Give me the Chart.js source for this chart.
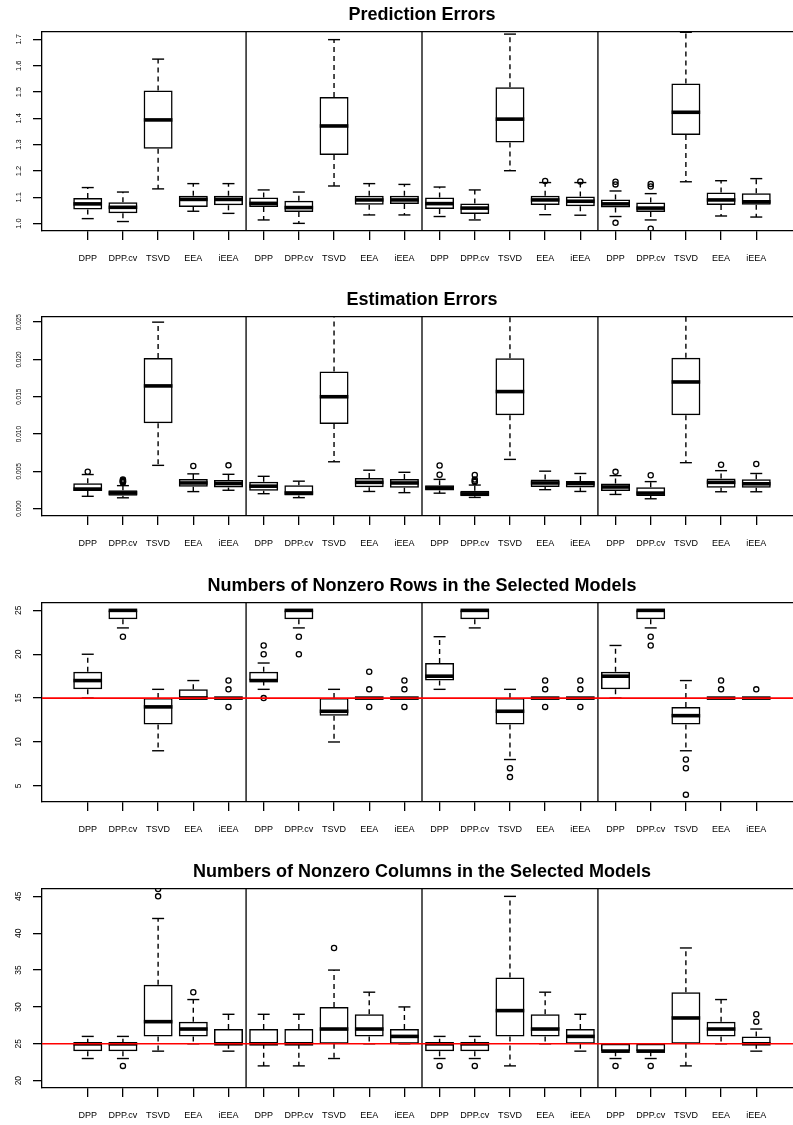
<!DOCTYPE html>
<html>
<head>
<meta charset="utf-8">
<script src="https://cdn.jsdelivr.net/npm/chart.js@4.4.1/dist/chart.umd.min.js"></script>
<style>
  html, body { margin: 0; padding: 0; background: #ffffff; overflow: hidden; width: 793px; height: 1125px; }
  .panel { position: absolute; left: 0; width: 793px; }
  canvas { display: block; }
</style>
</head>
<body>
<div class="panel" style="top:0px;height:286px"><canvas id="c1" width="793" height="286"></canvas></div>
<div class="panel" style="top:285px;height:286px"><canvas id="c2" width="793" height="286"></canvas></div>
<div class="panel" style="top:571px;height:286px"><canvas id="c3" width="793" height="286"></canvas></div>
<div class="panel" style="top:857px;height:268px"><canvas id="c4" width="793" height="268"></canvas></div>
<script>
// ---------------- categories ----------------
const methods = ['DPP', 'DPP.cv', 'TSVD', 'EEA', 'iEEA'];
const groupCount = 4;
const boxLabels = Array.from({ length: groupCount }, () => methods).flat();

// ---------------- Prediction Errors ----------------
const predTitle = 'Prediction Errors';
const predTicks = [1.0, 1.1, 1.2, 1.3, 1.4, 1.5, 1.6, 1.7];
const predTickLabels = ['1.0', '1.1', '1.2', '1.3', '1.4', '1.5', '1.6', '1.7'];
const predLow  = [1.019, 1.008, 1.132, 1.047, 1.039,  1.014, 1.001, 1.143, 1.033, 1.033,  1.027, 1.014, 1.201, 1.034, 1.032,  1.027, 1.014, 1.159, 1.029, 1.025];
const predQ1   = [1.054, 1.039, 1.284, 1.063, 1.070,  1.063, 1.044, 1.261, 1.072, 1.075,  1.056, 1.037, 1.308, 1.071, 1.066,  1.061, 1.044, 1.337, 1.071, 1.072];
const predMed  = [1.075, 1.062, 1.394, 1.092, 1.092,  1.077, 1.061, 1.371, 1.090, 1.090,  1.076, 1.059, 1.397, 1.090, 1.085,  1.075, 1.059, 1.423, 1.090, 1.083];
const predQ3   = [1.097, 1.081, 1.506, 1.106, 1.106,  1.099, 1.087, 1.481, 1.106, 1.106,  1.099, 1.076, 1.518, 1.106, 1.103,  1.092, 1.080, 1.532, 1.118, 1.115];
const predHigh = [1.137, 1.120, 1.625, 1.152, 1.152,  1.128, 1.120, 1.699, 1.152, 1.149,  1.139, 1.128, 1.720, 1.156, 1.156,  1.124, 1.114, 1.727, 1.163, 1.171];
const predOut  = [[], [], [], [], [],  [], [], [], [], [],  [], [], [], [1.162], [1.160],  [1.159, 1.149, 1.003], [1.151, 1.141, 0.981], [], [], []];

// ---------------- Estimation Errors ----------------
const estTitle = 'Estimation Errors';
const estTicks = [0.000, 0.005, 0.010, 0.015, 0.020, 0.025];
const estTickLabels = ['0.000', '0.005', '0.010', '0.015', '0.020', '0.025'];
const estLow  = [0.00165, 0.00145, 0.00580, 0.00228, 0.00246,  0.00200, 0.00147, 0.00628, 0.00230, 0.00214,  0.00207, 0.00150, 0.00660, 0.00254, 0.00230,  0.00190, 0.00132, 0.00616, 0.00226, 0.00226];
const estQ1   = [0.00237, 0.00172, 0.01145, 0.00292, 0.00283,  0.00239, 0.00175, 0.01136, 0.00288, 0.00281,  0.00244, 0.00165, 0.01252, 0.00290, 0.00283,  0.00236, 0.00170, 0.01252, 0.00281, 0.00281];
const estMed  = [0.00262, 0.00210, 0.01645, 0.00344, 0.00335,  0.00301, 0.00210, 0.01500, 0.00352, 0.00344,  0.00277, 0.00198, 0.01569, 0.00344, 0.00335,  0.00290, 0.00208, 0.01698, 0.00352, 0.00333];
const estQ3   = [0.00341, 0.00246, 0.02019, 0.00397, 0.00384,  0.00360, 0.00314, 0.01839, 0.00411, 0.00397,  0.00314, 0.00239, 0.02015, 0.00390, 0.00370,  0.00337, 0.00288, 0.02022, 0.00404, 0.00395];
const estHigh = [0.00457, 0.00308, 0.02500, 0.00466, 0.00460,  0.00433, 0.00368, 0.02800, 0.00515, 0.00487,  0.00392, 0.00316, 0.02800, 0.00502, 0.00471,  0.00442, 0.00362, 0.02800, 0.00509, 0.00471];
const estOut  = [[0.00495], [0.00350, 0.00356, 0.00362, 0.00370, 0.00380, 0.00390], [], [0.00571], [0.00580],
                 [], [], [], [], [],
                 [0.00578, 0.00455], [0.00451, 0.00390, 0.00370, 0.00357], [], [], [],
                 [0.00493], [0.00448], [], [0.00589], [0.00598]];

// ---------------- Numbers of Nonzero Rows ----------------
const rowTitle = 'Numbers of Nonzero Rows in the Selected Models';
const rowTicks = [5, 10, 15, 20, 25];
const rowTickLabels = ['5', '10', '15', '20', '25'];
const rowTrue = 15;
const rowLow  = [15, 23, 9, 15, 15,  16, 23, 10, 15, 15,  16, 23, 8, 15, 15,  15, 23, 9, 15, 15];
const rowQ1   = [16, 24, 12, 15, 15,  17, 24, 13, 15, 15,  17, 24, 12, 15, 15,  16, 24, 12, 15, 15];
const rowMed  = [17, 25, 14, 15, 15,  17, 25, 13.5, 15, 15,  17.5, 25, 13.5, 15, 15,  17.5, 25, 13, 15, 15];
const rowQ3   = [18, 25, 15, 16, 15,  18, 25, 15, 15, 15,  19, 25, 15, 15, 15,  18, 25, 14, 15, 15];
const rowHigh = [20, 25, 16, 17, 15,  19, 25, 16, 15, 15,  22, 25, 16, 15, 15,  21, 25, 17, 15, 15];
const rowOut  = [[], [22], [], [], [17, 16, 14],
                 [21, 20, 15], [22, 20], [], [18, 16, 14], [17, 16, 14],
                 [], [], [7, 6], [17, 16, 14], [17, 16, 14],
                 [], [22, 21], [8, 7, 4], [17, 16], [16]];

// ---------------- Numbers of Nonzero Columns ----------------
const colTitle = 'Numbers of Nonzero Columns in the Selected Models';
const colTicks = [20, 25, 30, 35, 40, 45];
const colTickLabels = ['20', '25', '30', '35', '40', '45'];
const colTrue = 25;
const colLow  = [23, 23, 24, 25, 24,  22, 22, 23, 25, 25,  23, 23, 22, 25, 24,  23, 23, 22, 25, 24];
const colQ1   = [24, 24, 26, 26, 25,  25, 25, 25, 26, 25,  24, 24, 26, 26, 25,  24, 24, 25, 26, 25];
const colMed  = [25, 25, 28, 27, 25,  25, 25, 27, 27, 26,  25, 25, 29.5, 27, 26,  24, 24, 28.5, 27, 25];
const colQ3   = [25, 25, 33, 28, 27,  27, 27, 30, 29, 27,  25, 25, 34, 29, 27,  25, 25, 32, 28, 26];
const colHigh = [26, 26, 42, 31, 29,  29, 29, 35, 32, 30,  26, 26, 45, 32, 29,  25, 25, 38, 31, 27];
const colOut  = [[], [22], [45, 46], [32], [],
                 [], [], [38], [], [],
                 [22], [22], [], [], [],
                 [22], [22], [], [], [29, 28]];

// ---------------- drawing ----------------
const FONT = "'Liberation Sans', Arial, Helvetica, sans-serif";
const PLOT_LEFT = 42;        // left edge of plotting region (px)
const PLOT_BOTTOM = 231;     // bottom edge of plotting region inside each panel (px)
const FULL_PLOT_RIGHT = 802; // where the (cropped) plotting region would end

function tickPadding(labels, size) {
  const ctx = document.createElement('canvas').getContext('2d');
  ctx.font = size + 'px ' + FONT;
  const w = Math.max(...labels.map(t => ctx.measureText(t).width));
  return PLOT_LEFT - 9 - 19 - w / 2;
}

function buildPanel(canvasId, spec) {
  const n = spec.med.length;
  const pos = spec.med.map((_, i) => i + 1);
  const canvas = document.getElementById(canvasId);
  // R-style x range (0.5 .. n+0.5, expanded by 4%), cropped at the canvas edge
  const rMin = 0.5 - 0.04 * n;
  const rMax = n + 0.5 + 0.04 * n;
  const xMin = rMin;
  const xMax = rMin + (rMax - rMin) * (canvas.width - PLOT_LEFT) / (FULL_PLOT_RIGHT - PLOT_LEFT);

  const whiskers = [];
  const staples = [];
  const medians = [];
  const boxes = [];
  const outliers = [];
  pos.forEach((x, i) => {
    whiskers.push({ x, y: spec.q3[i] }, { x, y: spec.high[i] }, { x, y: null });
    whiskers.push({ x, y: spec.q1[i] }, { x, y: spec.low[i] }, { x, y: null });
    staples.push({ x, y: spec.high[i] }, { x, y: spec.low[i] });
    medians.push({ x, y: spec.med[i] });
    boxes.push({ x, y: [spec.q1[i], spec.q3[i]] });
    spec.out[i].forEach(v => outliers.push({ x, y: v }));
  });
  const separators = [];
  for (let g = 1; g < groupCount; g++) {
    const sx = g * methods.length + 0.5;
    separators.push({ x: sx, y: spec.yMin }, { x: sx, y: spec.yMax }, { x: sx, y: null });
  }

  const datasets = [];
  if (spec.ref !== undefined) {
    datasets.push({ type: 'line', data: [{ x: xMin, y: spec.ref }, { x: xMax, y: spec.ref }],
      borderColor: '#ff0000', borderWidth: 1.6, pointRadius: 0, fill: false, order: 0, clip: 0 });
  }
  datasets.push({ type: 'scatter', data: medians, pointStyle: 'line', pointRadius: 14.3, pointHoverRadius: 14.3,
    pointBorderWidth: 3.6, pointBorderColor: '#000', borderColor: '#000', order: 1, clip: 0 });
  datasets.push({ type: 'scatter', data: outliers, pointStyle: 'circle', pointRadius: 2.6, pointHoverRadius: 2.6,
    pointBorderWidth: 1.3, pointBorderColor: '#000', pointBackgroundColor: 'rgba(0,0,0,0)', order: 2, clip: 0 });
  datasets.push({ type: 'scatter', data: staples, pointStyle: 'line', pointRadius: 6, pointHoverRadius: 6,
    pointBorderWidth: 1.4, pointBorderColor: '#000', borderColor: '#000', order: 2, clip: 0 });
  datasets.push({ type: 'line', data: separators, borderColor: '#000', borderWidth: 1.3, pointRadius: 0,
    fill: false, spanGaps: false, order: 3, clip: 0 });
  datasets.push({ type: 'bar', data: boxes, backgroundColor: 'rgba(0,0,0,0)', borderColor: '#000',
    borderWidth: 1.5, borderSkipped: false, barThickness: 29, inflateAmount: 0, order: 4, clip: 0 });
  datasets.push({ type: 'line', data: whiskers, borderColor: '#000', borderWidth: 1.4, borderDash: [5, 4],
    pointRadius: 0, fill: false, spanGaps: false, order: 5, clip: 0 });

  const axisLine = { display: true, color: '#000', width: 1.3 };
  const tickGrid = { display: true, drawOnChartArea: false, drawTicks: true, tickLength: 9, color: '#000', lineWidth: 1.3, offset: false };

  new Chart(canvas, {
    type: 'bar',
    data: { datasets },
    options: {
      responsive: false,
      animation: false,
      events: [],
      layout: { autoPadding: false, padding: { left: 0, right: 0, top: 0, bottom: 0 } },
      plugins: {
        legend: { display: false },
        tooltip: { enabled: false },
        title: {
          display: true, text: spec.title, fullSize: true, align: 'start', color: '#000',
          font: { family: FONT, size: 18, weight: 'bold', lineHeight: 1.2 },
          padding: { top: 4, bottom: 6.4 }
        }
      },
      scales: {
        x: {
          type: 'linear', position: 'bottom', min: xMin, max: xMax, offset: false,
          afterBuildTicks: s => { s.ticks = pos.map(v => ({ value: v })); },
          afterFit: s => { s.height = canvas.height - PLOT_BOTTOM; s.paddingLeft = 0; s.paddingRight = 0; },
          grid: tickGrid,
          border: axisLine,
          ticks: { autoSkip: false, maxRotation: 0, minRotation: 0, padding: 13, color: '#000',
            font: { family: FONT, size: 9 }, callback: (v, i) => boxLabels[i] }
        },
        xTop: {
          type: 'linear', axis: 'x', position: 'top', min: xMin, max: xMax, display: true, offset: false,
          afterBuildTicks: s => { s.ticks = [{ value: xMin }]; },
          afterFit: s => { s.height = 0; s.paddingLeft = 0; s.paddingRight = 0; },
          grid: { display: false, drawTicks: false },
          ticks: { display: false, padding: 0, callback: () => '' },
          border: axisLine
        },
        y: {
          type: 'linear', position: 'left', min: spec.yMin, max: spec.yMax, beginAtZero: false,
          afterBuildTicks: s => { s.ticks = spec.yTicks.map(v => ({ value: v })); },
          afterFit: s => { s.width = PLOT_LEFT; },
          grid: tickGrid,
          border: axisLine,
          ticks: { minRotation: 90, maxRotation: 90, crossAlign: 'center',
            padding: tickPadding(spec.yTickLabels, spec.yFont), color: '#000',
            font: { family: FONT, size: spec.yFont }, callback: (v, i) => spec.yTickLabels[i] }
        }
      }
    },
    plugins: [{
      // centre the title over the full (uncropped) plotting region, as in the original figure
      id: 'titleCentre',
      afterLayout(chart) {
        const t = chart.titleBlock;
        if (t) {
          const width = FULL_PLOT_RIGHT - PLOT_LEFT;
          const ctx = chart.ctx;
          ctx.save();
          ctx.font = 'bold 18px ' + FONT;
          const tw = ctx.measureText(spec.title).width;
          ctx.restore();
          t.left = PLOT_LEFT + (width - tw) / 2;
          t.right = t.left + tw;
          t.width = tw;
        }
      }
    }]
  });
}

buildPanel('c1', { title: predTitle, yMin: 0.972, yMax: 1.728, yTicks: predTicks, yTickLabels: predTickLabels, yFont: 7.5,
  low: predLow, q1: predQ1, med: predMed, q3: predQ3, high: predHigh, out: predOut });
buildPanel('c2', { title: estTitle, yMin: -0.00099, yMax: 0.02569, yTicks: estTicks, yTickLabels: estTickLabels, yFont: 6.5,
  low: estLow, q1: estQ1, med: estMed, q3: estQ3, high: estHigh, out: estOut });
buildPanel('c3', { title: rowTitle, yMin: 3.16, yMax: 25.84, yTicks: rowTicks, yTickLabels: rowTickLabels, yFont: 8.5,
  low: rowLow, q1: rowQ1, med: rowMed, q3: rowQ3, high: rowHigh, out: rowOut, ref: rowTrue });
buildPanel('c4', { title: colTitle, yMin: 19, yMax: 46, yTicks: colTicks, yTickLabels: colTickLabels, yFont: 8.5,
  low: colLow, q1: colQ1, med: colMed, q3: colQ3, high: colHigh, out: colOut, ref: colTrue });
</script>
</body>
</html>
